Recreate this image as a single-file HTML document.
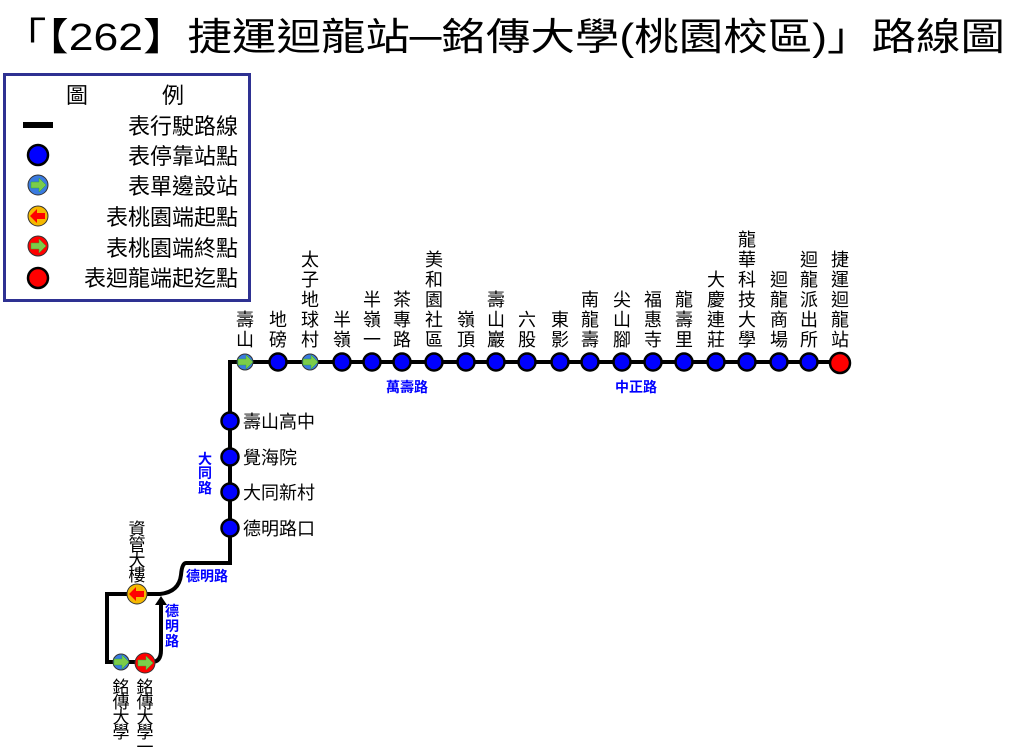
<!DOCTYPE html>
<html><head><meta charset="utf-8"><style>
html,body{margin:0;padding:0;background:#fff;}
svg{display:block;font-family:"Liberation Sans","Noto Sans CJK TC",sans-serif;}
</style></head><body>
<svg width="1011" height="756" viewBox="0 0 1011 756" xmlns="http://www.w3.org/2000/svg">
<defs>
<g id="rarrow"><path d="M-7,-3 L1,-3 L1,-7 L8,0 L1,7 L1,3 L-7,3 Z" fill="#7ccc4a" stroke="#3a3" stroke-width="0.5"/></g>
<g id="larrow"><path d="M7,-3 L-1,-3 L-1,-7 L-8,0 L-1,7 L-1,3 L7,3 Z" fill="#f00"/></g>
</defs>
<text x="2" y="50" font-size="38" textLength="1003" lengthAdjust="spacingAndGlyphs">「【262】捷運迴龍站─銘傳大學(桃園校區)」路線圖</text>

<!-- legend -->
<rect x="4.5" y="74.5" width="245" height="226" fill="#fff" stroke="#2e3192" stroke-width="3"/>
<g font-size="22" fill="#000">
<text x="66" y="103">圖</text><text x="162" y="103">例</text>
<text x="238" y="134" text-anchor="end">表行駛路線</text>
<text x="238" y="164" text-anchor="end">表停靠站點</text>
<text x="238" y="194" text-anchor="end">表單邊設站</text>
<text x="238" y="225" text-anchor="end">表桃園端起點</text>
<text x="238" y="256" text-anchor="end">表桃園端終點</text>
<text x="238" y="286" text-anchor="end">表迴龍端起迄點</text>
</g>
<rect x="23" y="122" width="30" height="6" fill="#000"/>
<circle cx="38" cy="155" r="10" fill="#00f" stroke="#000" stroke-width="2.5"/>
<circle cx="38" cy="185" r="10" fill="#3a7be0" stroke="#333" stroke-width="1"/><use href="#rarrow" x="38" y="185"/>
<circle cx="38" cy="216" r="10" fill="#f5b800" stroke="#333" stroke-width="1"/><use href="#larrow" x="38" y="216"/>
<circle cx="38" cy="246" r="10" fill="#f00" stroke="#333" stroke-width="1"/><use href="#rarrow" x="38" y="246"/>
<circle cx="38" cy="278" r="10" fill="#f00" stroke="#000" stroke-width="2.5"/>

<!-- route lines -->
<g fill="none" stroke="#000" stroke-width="4">
<path d="M840,362 L230,362 L230,563 L186,563 Q182,563 181,575 Q179,592 160,594 L107,594 L107,662 L152,662 Q161,662 161,650 L161,603"/>
</g>
<path d="M155,605 L161,596 L167,605 Z" fill="#000"/>

<!-- road labels -->
<g fill="#0000ff" font-size="14" font-weight="bold">
<text x="407" y="392" text-anchor="middle">萬壽路</text>
<text x="636" y="392" text-anchor="middle">中正路</text>
<text x="207" y="581" text-anchor="middle">德明路</text>
<text x="205" y="464" text-anchor="middle">大</text><text x="205" y="478" text-anchor="middle">同</text><text x="205" y="493" text-anchor="middle">路</text>
<text x="172" y="616" text-anchor="middle">德</text><text x="172" y="631" text-anchor="middle">明</text><text x="172" y="646" text-anchor="middle">路</text>
</g>

<!-- stations -->
<g stroke="#000" stroke-width="2.5" fill="#00f">
<circle cx="278" cy="362" r="8.5"/>
<circle cx="342" cy="362" r="8.5"/><circle cx="372" cy="362" r="8.5"/><circle cx="402" cy="362" r="8.5"/>
<circle cx="434" cy="362" r="8.5"/><circle cx="466" cy="362" r="8.5"/><circle cx="496" cy="362" r="8.5"/>
<circle cx="527" cy="362" r="8.5"/><circle cx="560" cy="362" r="8.5"/><circle cx="590" cy="362" r="8.5"/>
<circle cx="622" cy="362" r="8.5"/><circle cx="653" cy="362" r="8.5"/><circle cx="684" cy="362" r="8.5"/>
<circle cx="716" cy="362" r="8.5"/><circle cx="747" cy="362" r="8.5"/><circle cx="779" cy="362" r="8.5"/>
<circle cx="809" cy="362" r="8.5"/>
<circle cx="230" cy="421" r="8.5"/><circle cx="230" cy="457" r="8.5"/><circle cx="230" cy="492" r="8.5"/><circle cx="230" cy="528" r="8.5"/>
</g>
<circle cx="840" cy="363" r="10" fill="#f00" stroke="#000" stroke-width="2.5"/>
<circle cx="245" cy="362" r="8" fill="#3a7be0" stroke="#333" stroke-width="1"/><use href="#rarrow" x="245" y="362"/>
<circle cx="310" cy="362" r="8" fill="#3a7be0" stroke="#333" stroke-width="1"/><use href="#rarrow" x="310" y="362"/>
<circle cx="137" cy="594" r="10" fill="#f5b800" stroke="#333" stroke-width="1"/><use href="#larrow" x="137" y="594"/>
<circle cx="121" cy="662" r="8" fill="#3a7be0" stroke="#333" stroke-width="1"/><use href="#rarrow" x="121" y="662"/>
<circle cx="145" cy="663" r="10" fill="#f00" stroke="#333" stroke-width="1"/><use href="#rarrow" x="145" y="663"/>

<!-- vertical labels -->
<g font-size="18" fill="#000" text-anchor="middle">
<text x="245" y="326">壽</text><text x="245" y="346">山</text>
<text x="278" y="326">地</text><text x="278" y="346">磅</text>
<text x="310" y="266">太</text><text x="310" y="286">子</text><text x="310" y="306">地</text><text x="310" y="326">球</text><text x="310" y="346">村</text>
<text x="342" y="326">半</text><text x="342" y="346">嶺</text>
<text x="372" y="306">半</text><text x="372" y="326">嶺</text><text x="372" y="346">一</text>
<text x="402" y="306">茶</text><text x="402" y="326">專</text><text x="402" y="346">路</text>
<text x="434" y="266">美</text><text x="434" y="286">和</text><text x="434" y="306">園</text><text x="434" y="326">社</text><text x="434" y="346">區</text>
<text x="466" y="326">嶺</text><text x="466" y="346">頂</text>
<text x="496" y="306">壽</text><text x="496" y="326">山</text><text x="496" y="346">巖</text>
<text x="527" y="326">六</text><text x="527" y="346">股</text>
<text x="560" y="326">東</text><text x="560" y="346">影</text>
<text x="590" y="306">南</text><text x="590" y="326">龍</text><text x="590" y="346">壽</text>
<text x="622" y="306">尖</text><text x="622" y="326">山</text><text x="622" y="346">腳</text>
<text x="653" y="306">福</text><text x="653" y="326">惠</text><text x="653" y="346">寺</text>
<text x="684" y="306">龍</text><text x="684" y="326">壽</text><text x="684" y="346">里</text>
<text x="716" y="286">大</text><text x="716" y="306">慶</text><text x="716" y="326">連</text><text x="716" y="346">莊</text>
<text x="747" y="246">龍</text><text x="747" y="266">華</text><text x="747" y="286">科</text><text x="747" y="306">技</text><text x="747" y="326">大</text><text x="747" y="346">學</text>
<text x="779" y="286">迴</text><text x="779" y="306">龍</text><text x="779" y="326">商</text><text x="779" y="346">場</text>
<text x="809" y="266">迴</text><text x="809" y="286">龍</text><text x="809" y="306">派</text><text x="809" y="326">出</text><text x="809" y="346">所</text>
<text x="840" y="266">捷</text><text x="840" y="286">運</text><text x="840" y="306">迴</text><text x="840" y="326">龍</text><text x="840" y="346">站</text>
</g>
<g font-size="17" fill="#000" text-anchor="middle">
<text x="137" y="535">資</text><text x="137" y="551">管</text><text x="137" y="566">大</text><text x="137" y="581">樓</text>
<text x="121" y="693">銘</text><text x="121" y="708">傳</text><text x="121" y="723">大</text><text x="121" y="738">學</text>
<text x="145" y="693">銘</text><text x="145" y="708">傳</text><text x="145" y="723">大</text><text x="145" y="738">學</text><text x="145" y="753">一</text>
</g>
<g font-size="18" fill="#000">
<text x="243" y="428">壽山高中</text>
<text x="243" y="464">覺海院</text>
<text x="243" y="499">大同新村</text>
<text x="243" y="535">德明路口</text>
</g>
</svg>
</body></html>
